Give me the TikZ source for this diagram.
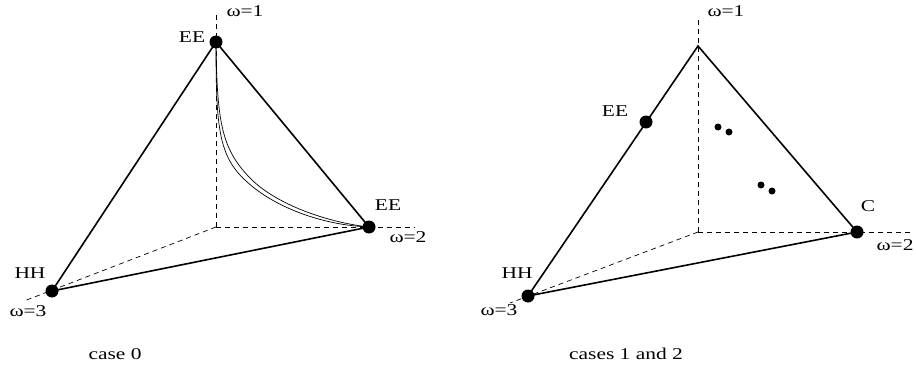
\documentclass[tikz,border=0pt]{standalone}
\usepackage{fontspec}
\setmainfont{Liberation Serif}[FakeStretch=1.3]
\begin{document}
\begin{tikzpicture}[x=1pt,y=-1pt,
		dot/.style={circle, fill, inner sep=0pt, minimum size=13pt},
		smalldot/.style={circle, fill, inner sep=0pt, minimum size=7pt},
		edge/.style={line width=1.6pt},
		axis/.style={dash pattern=on 5pt off 4pt, line width=0.7pt},
		curve/.style={line width=0.7pt},
		lbl/.style={font=\fontsize{16.5}{19}\selectfont, inner sep=0pt}]
	\useasboundingbox (0,0) rectangle (916,369);
	
	% case 0
	\coordinate (o0) at (216,227);
	\coordinate (z0) at (216,14);
	\coordinate (x0) at (415,227);
	\coordinate (w0) at (24,301);
	\draw[axis] (o0) -- (z0);
	\draw[axis] (o0) -- (x0);
	\draw[axis] (o0) -- (w0);
	
	\node[dot] (top0) at (216,42) {};
	\node[dot] (ee0) at (369,227) {};
	\node[dot] (hh0) at (52,291) {};
	\draw[edge] (top0.center) -- (ee0.center) -- (hh0.center) -- cycle;
	
	% two curves between the EE points
	\draw[curve] (top0.center) .. controls (216,125) and (218,155) .. (245,180)
		.. controls (272,206) and (320,225) .. (ee0.center);
	\draw[curve] (top0.center) .. controls (217,125) and (222,150) .. (252,180)
		.. controls (277,204) and (325,222) .. (ee0.center);
	
	\node[lbl] (w1a) at (245,11) {ω=1};
	\node[lbl] (w2a) at (408,237) {ω=2};
	\node[lbl] (w3a) at (28,311) {ω=3};
	\node[lbl] (eea) at (192,37) {EE};
	\node[lbl] (eeb) at (388,205) {EE};
	\node[lbl] (hha) at (30,273) {HH};
	\node[lbl] (cap0) at (115,354) {case 0};
	
	% cases 1 and 2
	\coordinate (o1) at (698,232);
	\coordinate (z1) at (698,20);
	\coordinate (x1) at (913,232);
	\coordinate (w1) at (510,303);
	\draw[axis] (o1) -- (z1);
	\draw[axis] (o1) -- (x1);
	\draw[axis] (o1) -- (w1);
	
	\coordinate (top1) at (698,46);
	\node[dot] (c1) at (857,232) {};
	\node[dot] (hh1) at (528,296) {};
	\draw[edge] (top1) -- (c1.center) -- (hh1.center) -- cycle;
	\node[dot] (ee1) at (646,122) {};
	
	\foreach \p [count=\i] in {(718,127), (729,132), (761,185), (772,191)}
		\node[smalldot] (s\i) at \p {};
	
	\node[lbl] (w1b) at (726,11) {ω=1};
	\node[lbl] (w2b) at (895,245) {ω=2};
	\node[lbl] (w3b) at (499,310) {ω=3};
	\node[lbl] (eec) at (615,111) {EE};
	\node[lbl] (cc) at (868,206) {C};
	\node[lbl] (hhb) at (517,273) {HH};
	\node[lbl] (cap1) at (626,354) {cases 1 and 2};
\end{tikzpicture}
\end{document}
